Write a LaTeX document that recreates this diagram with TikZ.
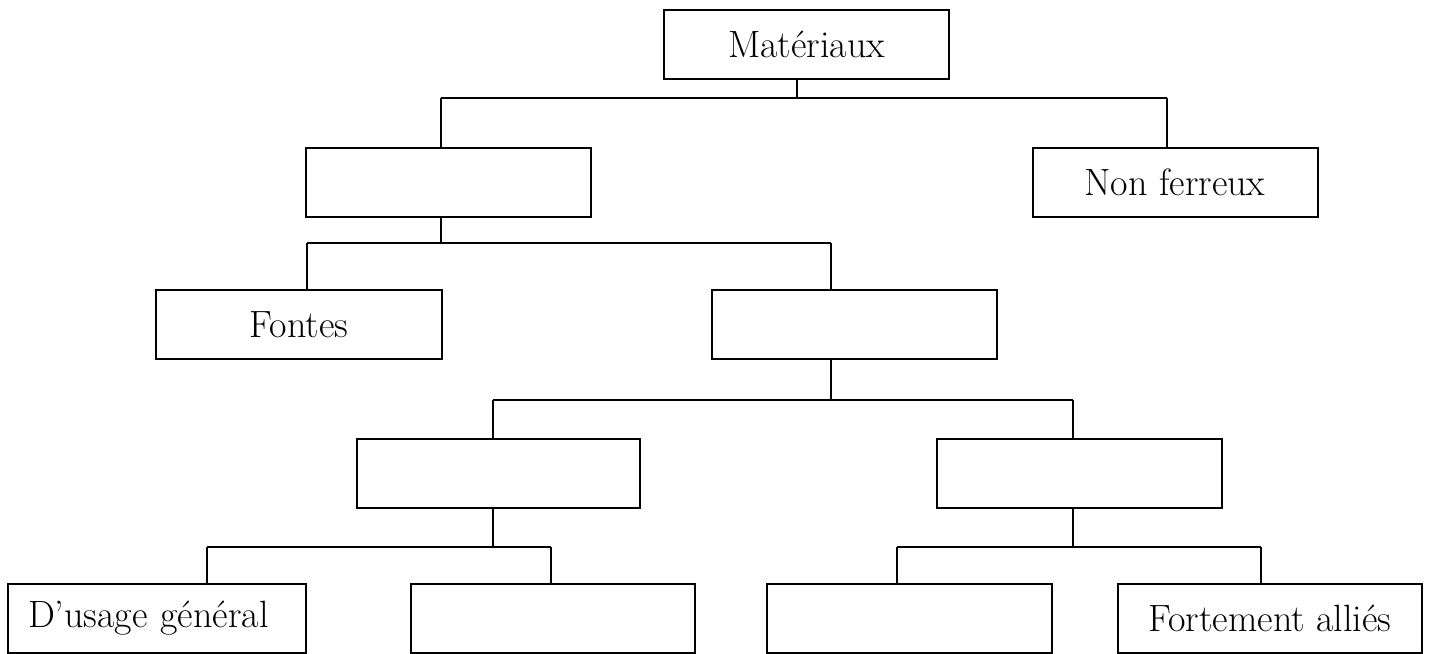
\documentclass[tikz,border=0pt]{standalone}
\usepackage{fontspec}
\begin{document}
\begin{tikzpicture}[x=0.5pt,y=-0.5pt,
  box/.style={draw=black,line width=1pt,minimum width=142.5pt,minimum height=34.5pt,inner sep=0pt,
    font=\fontsize{19}{22}\selectfont},
  link/.style={draw=black,line width=0.9pt}]
\useasboundingbox (0,0) rectangle (1429,653);
% boxes
\node[box] (A) at (806.5,44) {Matériaux};
\node[box] (B) at (448.5,182.5) {};
\node[box] (C) at (1175,182.5) {Non ferreux};
\node[box,minimum width=143pt] (D) at (299,324.5) {Fontes};
\node[box] (E) at (854,324.5) {};
\node[box,minimum width=141.5pt] (F) at (498.5,473.5) {};
\node[box] (G) at (1079,473.5) {};
\node[box,minimum width=149pt,text width=129pt,inner xsep=10pt,align=left] (H) at (157,618) {D’usage général};
\node[box,minimum width=142pt] (I) at (553,618) {};
\node[box] (J) at (909.5,618) {};
\node[box,minimum width=152pt] (K) at (1270,618) {Fortement alliés};
% stem positions
\coordinate (xA) at (797,0);
\coordinate (xB) at (441,0);
\coordinate (xC) at (1167,0);
\coordinate (xD) at (307,0);
\coordinate (xE) at (831,0);
\coordinate (xF) at (493,0);
\coordinate (xG) at (1073,0);
\coordinate (xH) at (207,0);
\coordinate (xI) at (551,0);
\coordinate (xJ) at (897,0);
\coordinate (xK) at (1261,0);
% bus heights
\coordinate (y1) at (0,98);
\coordinate (y2) at (0,243);
\coordinate (y3) at (0,400);
\coordinate (y4) at (0,547);
% connectors
\draw[link] (A.south -| xA) -- (xA |- y1);
\draw[link] (xB |- y1) -- (xC |- y1);
\draw[link] (xB |- y1) -- (B.north -| xB);
\draw[link] (xC |- y1) -- (C.north -| xC);
\draw[link] (B.south -| xB) -- (xB |- y2);
\draw[link] (xD |- y2) -- (xE |- y2);
\draw[link] (xD |- y2) -- (D.north -| xD);
\draw[link] (xE |- y2) -- (E.north -| xE);
\draw[link] (E.south -| xE) -- (xE |- y3);
\draw[link] (xF |- y3) -- (xG |- y3);
\draw[link] (xF |- y3) -- (F.north -| xF);
\draw[link] (xG |- y3) -- (G.north -| xG);
\draw[link] (F.south -| xF) -- (xF |- y4);
\draw[link] (xH |- y4) -- (xI |- y4);
\draw[link] (xH |- y4) -- (H.north -| xH);
\draw[link] (xI |- y4) -- (I.north -| xI);
\draw[link] (G.south -| xG) -- (xG |- y4);
\draw[link] (xJ |- y4) -- (xK |- y4);
\draw[link] (xJ |- y4) -- (J.north -| xJ);
\draw[link] (xK |- y4) -- (K.north -| xK);
\end{tikzpicture}
\end{document}
